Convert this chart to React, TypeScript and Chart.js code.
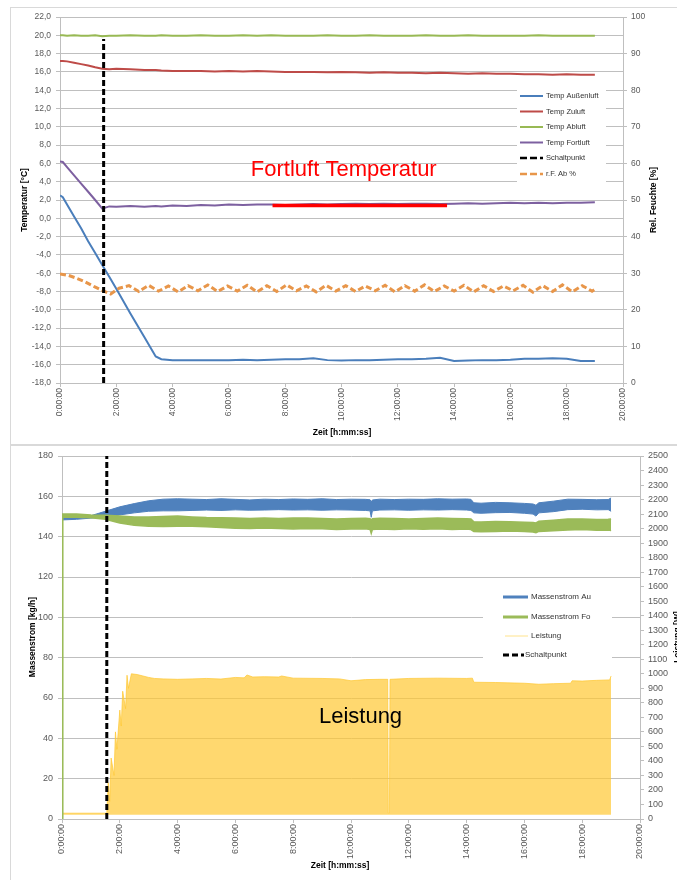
import React, { useEffect, useRef } from 'react';
import { Chart, registerables } from 'chart.js';

Chart.register(...registerables);

const FONT = '"Liberation Sans", Arial, Helvetica, sans-serif';
const TICK_COLOR = '#595959';
const GRID_COLOR = '#BFBFBF';

// ---------- shared axis ticks ----------
const timeTicks = [0, 2, 4, 6, 8, 10, 12, 14, 16, 18, 20];
const timeTickLabels = ['0:00:00', '2:00:00', '4:00:00', '6:00:00', '8:00:00', '10:00:00', '12:00:00', '14:00:00', '16:00:00', '18:00:00', '20:00:00'];

// ---------- top chart ----------
const tempTicks = [-18, -16, -14, -12, -10, -8, -6, -4, -2, 0, 2, 4, 6, 8, 10, 12, 14, 16, 18, 20, 22];
const tempTickLabels = ['-18,0', '-16,0', '-14,0', '-12,0', '-10,0', '-8,0', '-6,0', '-4,0', '-2,0', '0,0', '2,0', '4,0', '6,0', '8,0', '10,0', '12,0', '14,0', '16,0', '18,0', '20,0', '22,0'];
const humTicks = [0, 10, 20, 30, 40, 50, 60, 70, 80, 90, 100];

const topLabels = ['Temp Außenluft', 'Temp Zuluft', 'Temp Abluft', 'Temp Fortluft', 'Schaltpunkt', 'r.F. Ab %'];

const tTemp = [0, 0.1, 0.25, 0.5, 0.75, 1.0, 1.25, 1.5, 1.75, 2.0, 2.5, 3.0, 3.4, 3.6, 4.0, 4.5, 5.0, 5.5, 6.0, 6.5, 7.0, 7.5, 8.0, 8.5, 9.0, 9.5, 10.0, 10.5, 11.0, 11.5, 12.0, 12.5, 13.0, 13.5, 14.0, 14.5, 15.0, 15.5, 16.0, 16.5, 17.0, 17.5, 18.0, 18.5, 19.0];
const tempAussen = [2.5, 2.3, 1.5, 0.2, -1.1, -2.5, -3.8, -5.1, -6.4, -7.7, -10.4, -13.0, -15.1, -15.4, -15.5,
  -15.5, -15.5, -15.5, -15.5, -15.45, -15.5, -15.45, -15.4, -15.4, -15.3, -15.5, -15.55, -15.5, -15.5, -15.45,
  -15.4, -15.4, -15.35, -15.25, -15.6, -15.55, -15.5, -15.5, -15.45, -15.35, -15.35, -15.3, -15.35, -15.6, -15.6];
const tempZuluft = [17.2, 17.2, 17.15, 17.0, 16.85, 16.7, 16.5, 16.35, 16.3, 16.35, 16.3, 16.2, 16.2, 16.15, 16.1,
  16.1, 16.1, 16.05, 16.1, 16.05, 16.1, 16.05, 16.0, 16.0, 16.0, 15.95, 16.0, 15.95, 15.9, 15.95,
  15.9, 15.9, 15.85, 15.9, 15.85, 15.8, 15.85, 15.8, 15.8, 15.75, 15.75, 15.7, 15.75, 15.7, 15.7];
const tempAbluft = [20.0, 20.0, 19.95, 20.0, 19.95, 19.95, 20.0, 19.9, 19.95, 19.95, 20.0, 19.95, 19.95, 20.0, 19.95,
  19.95, 20.0, 19.95, 19.95, 20.0, 19.95, 20.0, 19.95, 19.95, 19.95, 20.0, 19.95, 19.95, 20.0, 19.95,
  19.95, 19.95, 20.0, 19.95, 19.95, 20.0, 19.95, 19.95, 19.95, 19.95, 20.0, 19.95, 19.95, 19.95, 19.95];
const tempFortluft = [6.2, 6.15, 5.6, 4.7, 3.8, 2.9, 2.0, 1.05, 1.3, 1.25, 1.35, 1.25, 1.35, 1.3, 1.4,
  1.35, 1.45, 1.4, 1.5, 1.45, 1.5, 1.5, 1.45, 1.5, 1.55, 1.5, 1.55, 1.6, 1.55, 1.6,
  1.55, 1.6, 1.6, 1.55, 1.6, 1.65, 1.6, 1.65, 1.7, 1.65, 1.7, 1.65, 1.7, 1.7, 1.75];

const tRF = [0, 0.3, 0.6, 0.9, 1.2, 1.5, 1.8, 2.1, 2.45, 2.8, 3.15, 3.5, 3.85, 4.2, 4.55, 4.9, 5.25, 5.6, 5.95, 6.3,
  6.65, 7.0, 7.35, 7.7, 8.05, 8.4, 8.75, 9.1, 9.45, 9.8, 10.15, 10.5, 10.85, 11.2, 11.55, 11.9, 12.25, 12.6, 12.95, 13.3,
  13.65, 14.0, 14.35, 14.7, 15.05, 15.4, 15.75, 16.1, 16.45, 16.8, 17.15, 17.5, 17.85, 18.2, 18.55, 18.9, 19.0];
const rfAb = [29.8, 29.4, 28.6, 27.6, 26.4, 25.3, 24.3, 25.9, 26.6, 25.0, 26.7, 25.1, 26.5, 24.9, 26.6, 25.2, 26.8, 25.0, 26.5, 25.1,
  26.7, 24.9, 26.6, 25.0, 26.8, 25.2, 26.5, 24.9, 26.7, 25.1, 26.6, 25.0, 26.5, 25.2, 26.7, 24.9, 26.6, 25.1, 26.8, 25.0,
  26.5, 25.1, 26.7, 24.9, 26.6, 25.0, 26.5, 25.2, 26.7, 24.8, 26.6, 25.0, 26.8, 24.9, 26.6, 25.1, 25.6];

const schaltT = [1.55, 1.55];
const schaltTopY = [-18, 19.6];
const markT = [7.55, 13.75];
const markY = [1.4, 1.4];

// ---------- bottom chart ----------
const flowTicks = [0, 20, 40, 60, 80, 100, 120, 140, 160, 180];
const powerTicks = [0, 100, 200, 300, 400, 500, 600, 700, 800, 900, 1000, 1100, 1200, 1300, 1400, 1500, 1600, 1700, 1800, 1900, 2000, 2100, 2200, 2300, 2400, 2500];

const bottomLabels = ['Massenstrom Au', 'Massenstrom Fo', 'Leistung', 'Schaltpunkt'];

const tFlow = [0, 0.02, 0.5, 1.0, 1.5, 2.0, 2.5, 3.0, 3.5, 4.0,
  4.5, 5.0, 5.5, 6.0, 6.5, 7.0, 7.5, 8.0, 8.5, 9.0,
  9.5, 10.0, 10.5, 10.66, 10.7, 10.74, 11.0, 11.5, 12.0, 12.5,
  13.0, 13.5, 14.0, 14.15, 14.25, 14.5, 15.0, 15.5, 16.0, 16.3,
  16.4, 16.5, 17.0, 17.5, 18.0, 18.5, 18.9, 19.0];
const auHi = [149.8, 149.8, 150.0, 150.4, 152.6, 154.8, 156.4, 157.8, 158.6, 158.8,
  158.6, 158.4, 158.8, 158.5, 158.2, 158.6, 158.4, 158.7, 158.5, 158.8,
  158.4, 158.6, 158.5, 158.3, 157.2, 158.2, 158.6, 158.4, 158.6, 158.5,
  158.8, 158.6, 158.7, 158.5, 156.8, 156.6, 157.0, 156.8, 156.5, 156.2,
  155.6, 156.8, 157.6, 158.6, 158.5, 158.3, 158.4, 159.2];
const auLo = [148.3, 148.3, 148.6, 149.2, 149.8, 150.8, 151.8, 152.6, 152.8, 152.8,
  153.0, 153.2, 153.0, 153.3, 153.1, 153.2, 153.4, 153.2, 153.3, 153.1,
  153.3, 153.2, 153.0, 152.8, 149.6, 152.8, 153.2, 153.3, 153.1, 153.3,
  153.2, 153.4, 153.2, 153.0, 151.8, 151.6, 151.9, 152.0, 151.6, 151.2,
  150.2, 151.8, 152.4, 153.4, 153.6, 153.3, 153.4, 152.6];
const foHi = [0, 151.2, 151.2, 150.8, 150.6, 150.3, 149.8, 149.8, 150.0, 150.2,
  149.8, 149.5, 149.4, 149.2, 149.0, 149.3, 149.0, 149.2, 149.3, 149.0,
  148.8, 149.0, 149.1, 148.9, 147.8, 148.9, 149.1, 149.0, 148.8, 149.0,
  149.2, 149.0, 148.9, 148.8, 147.4, 147.3, 147.5, 147.4, 147.2, 147.0,
  146.8, 147.6, 148.2, 148.8, 148.7, 148.5, 148.6, 148.8];
const foLo = [0, 149.6, 149.6, 149.4, 148.6, 146.8, 145.6, 145.2, 145.0, 145.2,
  145.2, 144.9, 144.6, 144.2, 144.0, 144.3, 144.0, 143.8, 144.1, 143.9,
  143.6, 143.8, 143.9, 143.6, 141.6, 143.5, 143.8, 143.6, 143.9, 143.7,
  143.9, 143.6, 143.8, 143.5, 142.6, 142.4, 142.6, 142.8, 142.5, 142.3,
  142.0, 142.6, 142.9, 143.3, 143.5, 143.2, 143.3, 143.0];

const tPower = [0, 1.55, 1.6, 1.65, 1.7, 1.8, 1.85, 1.9, 2.0, 2.05,
  2.1, 2.2, 2.25, 2.3, 2.4, 2.6, 2.8, 3.0, 3.2, 3.5,
  4.0, 4.5, 5.0, 5.5, 6.0, 6.3, 6.4, 6.6, 7.0, 7.5,
  7.6, 8.0, 9.0, 9.6, 10.0, 10.5, 11.0, 11.27, 11.29, 11.33, 11.35,
  12.0, 13.0, 14.0, 14.2, 14.25, 15.0, 16.0, 16.5, 17.0, 17.6,
  17.65, 18.0, 18.5, 18.95, 19.0];
const leistung = [40, 40, 250, 120, 420, 300, 600, 480, 750, 640,
  880, 760, 990, 900, 1000, 995, 985, 975, 968, 965,
  962, 965, 968, 964, 975, 972, 992, 978, 980, 978,
  985, 970, 968, 965, 952, 960, 962, 962, 40, 40, 962,
  968, 970, 968, 970, 942, 940, 935, 928, 932, 935,
  952, 950, 955, 958, 985];
const schaltBottomY = [0, 180];

// ---------- colours ----------
const C_BLUE = '#4A7EBB';
const C_RED = '#BE4B48';
const C_GREEN = '#98B954';
const C_PURPLE = '#7D60A0';
const C_ORANGE = '#E8964A';
const C_BAND_BLUE = '#4F81BD';
const C_BAND_GREEN = '#9BBB59';
const C_YELLOW = 'rgba(255, 200, 50, 0.7)';

function pts(xs: number[], ys: number[]) {
  return xs.map((x, i) => ({ x, y: ys[i] }));
}

function fixedTicks(values: number[]) {
  return (scale: any) => {
    scale.ticks = values.map((v) => ({ value: v }));
  };
}

type LegendItem = { label: string; color: string; width: number; dash?: number[]; x1: number; x2: number; tx: number; y: number };

function drawLegend(ctx: CanvasRenderingContext2D, box: number[], items: LegendItem[], fontPx: number) {
  ctx.save();
  ctx.fillStyle = '#ffffff';
  ctx.fillRect(box[0], box[1], box[2], box[3]);
  for (const it of items) {
    ctx.beginPath();
    ctx.strokeStyle = it.color;
    ctx.lineWidth = it.width;
    ctx.setLineDash(it.dash || []);
    ctx.moveTo(it.x1, it.y);
    ctx.lineTo(it.x2, it.y);
    ctx.stroke();
    ctx.setLineDash([]);
    ctx.fillStyle = '#333333';
    ctx.font = `${fontPx}px ${FONT}`;
    ctx.textAlign = 'left';
    ctx.textBaseline = 'middle';
    ctx.fillText(it.label, it.tx, it.y);
  }
  ctx.restore();
}

function vText(ctx: CanvasRenderingContext2D, text: string, x: number, y: number, font: string) {
  ctx.save();
  ctx.translate(x, y);
  ctx.rotate(-Math.PI / 2);
  ctx.font = font;
  ctx.fillStyle = '#000';
  ctx.textAlign = 'center';
  ctx.textBaseline = 'middle';
  ctx.fillText(text, 0, 0);
  ctx.restore();
}

function hText(ctx: CanvasRenderingContext2D, text: string, x: number, y: number, font: string, color: string, align: CanvasTextAlign, baseline: CanvasTextBaseline) {
  ctx.save();
  ctx.font = font;
  ctx.fillStyle = color;
  ctx.textAlign = align;
  ctx.textBaseline = baseline;
  ctx.fillText(text, x, y);
  ctx.restore();
}

const TITLE_FONT = `bold 8.5px ${FONT}`;

function xScaleOpts(height: number, fontSize: number) {
  return {
    type: 'linear',
    min: 0,
    max: 20,
    afterBuildTicks: fixedTicks(timeTicks),
    afterFit: (s: any) => { s.height = height; },
    ticks: {
      callback: (_v: any, i: number) => timeTickLabels[i],
      autoSkip: false,
      maxRotation: 90,
      minRotation: 90,
      padding: 1,
      color: TICK_COLOR,
      font: { family: FONT, size: fontSize },
    },
    grid: { drawOnChartArea: false, color: GRID_COLOR, tickLength: 4 },
    border: { color: GRID_COLOR },
  };
}

function yScaleOpts(pos: 'left' | 'right', min: number, max: number, ticks: number[], labels: string[] | null, width: number, fontSize: number, grid: boolean) {
  return {
    type: 'linear',
    position: pos,
    min,
    max,
    afterBuildTicks: fixedTicks(ticks),
    afterFit: (s: any) => { s.width = width; },
    ticks: {
      callback: (v: any, i: number) => (labels ? labels[i] : String(v)),
      autoSkip: false,
      padding: pos === 'left' ? 5 : 4,
      color: TICK_COLOR,
      font: { family: FONT, size: fontSize },
    },
    grid: { drawOnChartArea: grid, color: GRID_COLOR, tickLength: 4 },
    border: { color: GRID_COLOR },
  };
}

function topConfig(): any {
  const legendItems: LegendItem[] = [
    { label: topLabels[0], color: C_BLUE, width: 2, x1: 520, x2: 543, tx: 546, y: 96 },
    { label: topLabels[1], color: C_RED, width: 2, x1: 520, x2: 543, tx: 546, y: 111.5 },
    { label: topLabels[2], color: C_GREEN, width: 2, x1: 520, x2: 543, tx: 546, y: 127 },
    { label: topLabels[3], color: C_PURPLE, width: 2, x1: 520, x2: 543, tx: 546, y: 142.5 },
    { label: topLabels[4], color: '#000', width: 2.5, dash: [7, 3], x1: 520, x2: 543, tx: 546, y: 158 },
    { label: topLabels[5], color: C_ORANGE, width: 2.5, dash: [7, 3], x1: 520, x2: 543, tx: 546, y: 174 },
  ];
  const decor = {
    id: 'topDecor',
    beforeDraw(chart: any) {
      const ctx = chart.ctx;
      ctx.save();
      ctx.strokeStyle = '#D9D9D9';
      ctx.lineWidth = 1;
      ctx.strokeRect(10.5, 7.5, 700, 437);
      ctx.restore();
    },
    afterDatasetsDraw(chart: any) {
      const ctx = chart.ctx;
      const xs = chart.scales.x;
      const ys = chart.scales.y;
      hText(ctx, 'Fortluft Temperatur', xs.getPixelForValue(6.78), ys.getPixelForValue(4.62), `22px ${FONT}`, '#FF0000', 'left', 'alphabetic');
      drawLegend(ctx, [517, 85, 89, 105], legendItems, 7.5);
    },
    afterDraw(chart: any) {
      const ctx = chart.ctx;
      vText(ctx, 'Temperatur [°C]', 25, 200, TITLE_FONT);
      vText(ctx, 'Rel. Feuchte [%]', 654, 200, TITLE_FONT);
      hText(ctx, 'Zeit [h:mm:ss]', 342, 433, TITLE_FONT, '#000', 'center', 'middle');
    },
  };
  const line = (label: string, data: any[], color: string, width: number, order: number, extra: any = {}) => ({
    label, data, borderColor: color, backgroundColor: color, borderWidth: width, pointRadius: 0, fill: false, tension: 0, order, yAxisID: 'y', ...extra,
  });
  return {
    type: 'line',
    data: {
      datasets: [
        line(topLabels[0], pts(tTemp, tempAussen), C_BLUE, 2, 5),
        line(topLabels[1], pts(tTemp, tempZuluft), C_RED, 2, 5),
        line(topLabels[2], pts(tTemp, tempAbluft), C_GREEN, 2, 5),
        line(topLabels[3], pts(tTemp, tempFortluft), C_PURPLE, 2, 5),
        line(topLabels[4], pts(schaltT, schaltTopY), '#000', 3, 1, { borderDash: [6, 3] }),
        line(topLabels[5], pts(tRF, rfAb), C_ORANGE, 3, 3, { borderDash: [6, 3], yAxisID: 'y2' }),
        line('Markierung', pts(markT, markY), '#FF0000', 3.5, 0),
      ],
    },
    options: {
      responsive: false,
      animation: false,
      devicePixelRatio: 1,
      layout: { padding: { top: 17, left: 0, right: 0, bottom: 0 } },
      plugins: { legend: { display: false }, tooltip: { enabled: false } },
      scales: {
        x: xScaleOpts(62, 8.5),
        y: yScaleOpts('left', -18, 22, tempTicks, tempTickLabels, 60, 8.5, true),
        y2: yScaleOpts('right', 0, 100, humTicks, null, 54, 8.5, false),
      },
    },
    plugins: [decor],
  };
}

function bottomConfig(): any {
  const legendItems: LegendItem[] = [
    { label: bottomLabels[0], color: C_BAND_BLUE, width: 3, x1: 503, x2: 528, tx: 531, y: 152 },
    { label: bottomLabels[1], color: C_BAND_GREEN, width: 3, x1: 503, x2: 528, tx: 531, y: 172 },
    { label: bottomLabels[2], color: '#FFE38C', width: 1, x1: 505, x2: 528, tx: 531, y: 191 },
    { label: bottomLabels[3], color: '#000', width: 3, dash: [6, 3], x1: 503, x2: 524, tx: 525, y: 210 },
  ];
  const decor = {
    id: 'bottomDecor',
    beforeDraw(chart: any) {
      const ctx = chart.ctx;
      ctx.save();
      ctx.strokeStyle = '#D9D9D9';
      ctx.lineWidth = 1;
      ctx.strokeRect(10.5, 0.5, 700, 500);
      ctx.restore();
    },
    afterDatasetsDraw(chart: any) {
      const ctx = chart.ctx;
      const xs = chart.scales.x;
      const ys = chart.scales.y;
      hText(ctx, 'Leistung', xs.getPixelForValue(8.89), ys.getPixelForValue(47.6), `22px ${FONT}`, '#000', 'left', 'alphabetic');
      drawLegend(ctx, [483, 140, 129, 85], legendItems, 8);
    },
    afterDraw(chart: any) {
      const ctx = chart.ctx;
      vText(ctx, 'Massenstrom [kg/h]', 33, 192, TITLE_FONT);
      vText(ctx, 'Leistung [W]', 678, 192, TITLE_FONT);
      hText(ctx, 'Zeit [h:mm:ss]', 340, 421, TITLE_FONT, '#000', 'center', 'middle');
    },
  };
  const base = { pointRadius: 0, tension: 0 };
  return {
    type: 'line',
    data: {
      datasets: [
        { ...base, label: bottomLabels[0], data: pts(tFlow, auHi), borderColor: C_BAND_BLUE, backgroundColor: C_BAND_BLUE, borderWidth: 1, fill: false, order: 3, yAxisID: 'y' },
        { ...base, label: 'Au min', data: pts(tFlow, auLo), borderColor: C_BAND_BLUE, backgroundColor: C_BAND_BLUE, borderWidth: 1, fill: '-1', order: 3, yAxisID: 'y' },
        { ...base, label: bottomLabels[1], data: pts(tFlow, foHi), borderColor: C_BAND_GREEN, backgroundColor: C_BAND_GREEN, borderWidth: 1.5, fill: false, order: 2, yAxisID: 'y' },
        { ...base, label: 'Fo min', data: pts(tFlow, foLo), borderColor: C_BAND_GREEN, backgroundColor: C_BAND_GREEN, borderWidth: 1.5, fill: '-1', order: 2, yAxisID: 'y' },
        { ...base, label: bottomLabels[2], data: pts(tPower, leistung), borderColor: C_YELLOW, backgroundColor: C_YELLOW, borderWidth: 1, fill: { value: 30 }, order: 5, yAxisID: 'y2' },
        { ...base, label: bottomLabels[3], data: pts(schaltT, schaltBottomY), borderColor: '#000', borderWidth: 3, borderDash: [6, 3], fill: false, order: 0, yAxisID: 'y' },
      ],
    },
    options: {
      responsive: false,
      animation: false,
      devicePixelRatio: 1,
      layout: { padding: { top: 11, left: 0, right: 0, bottom: 0 } },
      plugins: { legend: { display: false }, tooltip: { enabled: false } },
      scales: {
        x: xScaleOpts(61, 9),
        y: yScaleOpts('left', 0, 180, flowTicks, null, 62, 9, true),
        y2: yScaleOpts('right', 0, 2500, powerTicks, null, 37, 9, false),
      },
    },
    plugins: [decor],
  };
}

export default function App() {
  const topRef = useRef<HTMLCanvasElement>(null);
  const botRef = useRef<HTMLCanvasElement>(null);
  useEffect(() => {
    const c1 = new Chart(topRef.current as HTMLCanvasElement, topConfig());
    const c2 = new Chart(botRef.current as HTMLCanvasElement, bottomConfig());
    return () => {
      c1.destroy();
      c2.destroy();
    };
  }, []);
  return (
    <div style={{ position: 'absolute', left: 0, top: 0, width: 677, height: 880, overflow: 'hidden', background: '#ffffff' }}>
      <canvas ref={topRef} width={677} height={445} style={{ position: 'absolute', left: 0, top: 0, width: 677, height: 445 }} />
      <canvas ref={botRef} width={677} height={435} style={{ position: 'absolute', left: 0, top: 445, width: 677, height: 435 }} />
    </div>
  );
}
